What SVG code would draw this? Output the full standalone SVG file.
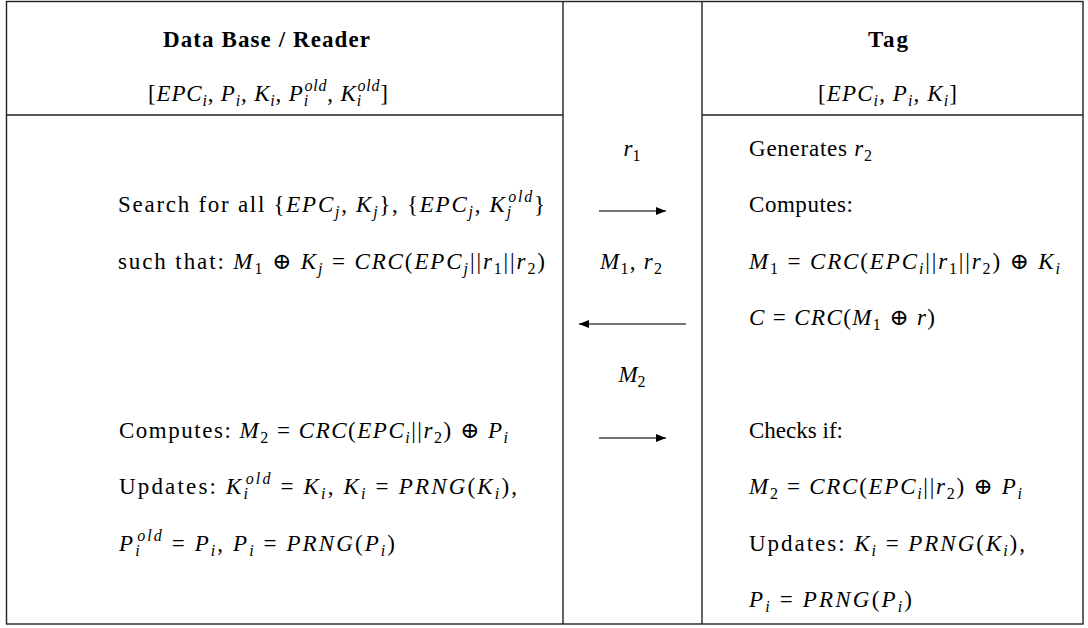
<svg xmlns="http://www.w3.org/2000/svg" width="1088" height="628" viewBox="0 0 1088 628">
<defs>
<style>
.frame{fill:none;stroke:#222;stroke-width:1.4}
.t{font-family:"Liberation Serif","DejaVu Serif",serif;font-size:23px;fill:#000}
.b{font-weight:bold}
.m{font-style:italic}
.s{font-size:16px}
.arr{stroke:#444;stroke-width:1.3;fill:none}
</style>
<marker id="ah" viewBox="0 0 10 8" refX="10" refY="4" markerWidth="11" markerHeight="8" markerUnits="userSpaceOnUse" orient="auto">
<path d="M0,0 L10,4 L0,8 Z" fill="#000"/>
</marker>
</defs>
<rect x="0" y="0" width="1088" height="628" fill="#fff"/>
<g id="table">
<rect class="frame" x="6.5" y="1.5" width="1076.5" height="622.5"/>
<line class="frame" x1="563" y1="1.5" x2="563" y2="624"/>
<line class="frame" x1="702" y1="1.5" x2="702" y2="624"/>
<line class="frame" x1="6.5" y1="115" x2="563" y2="115"/>
<line class="frame" x1="702" y1="115" x2="1083" y2="115"/>
</g>
<g id="reader">
<text class="t b" x="266.5" y="47" text-anchor="middle" textLength="207" lengthAdjust="spacing">Data Base / Reader</text>
<text class="t" x="268" y="101" text-anchor="middle" textLength="240" lengthAdjust="spacing">[<tspan class="m">EPC</tspan><tspan class="s m" dy="5">i</tspan><tspan dy="-5">, </tspan><tspan class="m">P</tspan><tspan class="s m" dy="5">i</tspan><tspan dy="-5">, </tspan><tspan class="m">K</tspan><tspan class="s m" dy="5">i</tspan><tspan dy="-5">, </tspan><tspan class="m">P</tspan><tspan class="s m" dy="5">i</tspan><tspan class="s m" dx="-4.5" dy="-15">old</tspan><tspan dy="10">, </tspan><tspan class="m">K</tspan><tspan class="s m" dy="5">i</tspan><tspan class="s m" dx="-4.5" dy="-15">old</tspan><tspan dy="10">]</tspan></text>
<text class="t" x="118" y="212.4" textLength="427" lengthAdjust="spacing">Search for all {<tspan class="m">EPC</tspan><tspan class="s m" dy="5">j</tspan><tspan dy="-5">, </tspan><tspan class="m">K</tspan><tspan class="s m" dy="5">j</tspan><tspan dy="-5">}, {</tspan><tspan class="m">EPC</tspan><tspan class="s m" dy="5">j</tspan><tspan dy="-5">, </tspan><tspan class="m">K</tspan><tspan class="s m" dy="5">j</tspan><tspan class="s m" dx="-4.5" dy="-15">old</tspan><tspan dy="10">}</tspan></text>
<text class="t" x="118" y="268.8" textLength="427" lengthAdjust="spacing">such that: <tspan class="m">M</tspan><tspan class="s" dy="5">1</tspan><tspan dy="-5"> ⊕ </tspan><tspan class="m">K</tspan><tspan class="s m" dy="5">j</tspan><tspan dy="-5"> = </tspan><tspan class="m">CRC</tspan>(<tspan class="m">EPC</tspan><tspan class="s m" dy="5">j</tspan><tspan dy="-5">||</tspan><tspan class="m">r</tspan><tspan class="s" dy="5">1</tspan><tspan dy="-5">||</tspan><tspan class="m">r</tspan><tspan class="s" dy="5">2</tspan><tspan dy="-5">)</tspan></text>
<text class="t" x="119" y="438" textLength="389" lengthAdjust="spacing">Computes: <tspan class="m">M</tspan><tspan class="s" dy="5">2</tspan><tspan dy="-5"> = </tspan><tspan class="m">CRC</tspan>(<tspan class="m">EPC</tspan><tspan class="s m" dy="5">i</tspan><tspan dy="-5">||</tspan><tspan class="m">r</tspan><tspan class="s" dy="5">2</tspan><tspan dy="-5">) ⊕ </tspan><tspan class="m">P</tspan><tspan class="s m" dy="5">i</tspan></text>
<text class="t" x="119" y="494.4" textLength="398" lengthAdjust="spacing">Updates: <tspan class="m">K</tspan><tspan class="s m" dy="5">i</tspan><tspan class="s m" dx="-4.5" dy="-15">old</tspan><tspan dy="10"> = </tspan><tspan class="m">K</tspan><tspan class="s m" dy="5">i</tspan><tspan dy="-5">, </tspan><tspan class="m">K</tspan><tspan class="s m" dy="5">i</tspan><tspan dy="-5"> = </tspan><tspan class="m">PRNG</tspan>(<tspan class="m">K</tspan><tspan class="s m" dy="5">i</tspan><tspan dy="-5">),</tspan></text>
<text class="t" x="119" y="550.8" textLength="276" lengthAdjust="spacing"><tspan class="m">P</tspan><tspan class="s m" dy="5">i</tspan><tspan class="s m" dx="-4.5" dy="-15">old</tspan><tspan dy="10"> = </tspan><tspan class="m">P</tspan><tspan class="s m" dy="5">i</tspan><tspan dy="-5">, </tspan><tspan class="m">P</tspan><tspan class="s m" dy="5">i</tspan><tspan dy="-5"> = </tspan><tspan class="m">PRNG</tspan>(<tspan class="m">P</tspan><tspan class="s m" dy="5">i</tspan><tspan dy="-5">)</tspan></text>
</g>
<g id="channel">
<text class="t" x="632" y="156" text-anchor="middle"><tspan class="m">r</tspan><tspan class="s" dy="5">1</tspan></text>
<text class="t" x="631" y="268.8" text-anchor="middle" textLength="62" lengthAdjust="spacing"><tspan class="m">M</tspan><tspan class="s" dy="5">1</tspan><tspan dy="-5">, </tspan><tspan class="m">r</tspan><tspan class="s" dy="5">2</tspan></text>
<text class="t" x="632" y="381.6" text-anchor="middle"><tspan class="m">M</tspan><tspan class="s" dy="5">2</tspan></text>
</g>
<g id="tag">
<text class="t b" x="888" y="47" text-anchor="middle" textLength="40" lengthAdjust="spacing">Tag</text>
<text class="t" x="887.5" y="101" text-anchor="middle" textLength="139" lengthAdjust="spacing">[<tspan class="m">EPC</tspan><tspan class="s m" dy="5">i</tspan><tspan dy="-5">, </tspan><tspan class="m">P</tspan><tspan class="s m" dy="5">i</tspan><tspan dy="-5">, </tspan><tspan class="m">K</tspan><tspan class="s m" dy="5">i</tspan><tspan dy="-5">]</tspan></text>
<text class="t" x="749" y="156" textLength="123" lengthAdjust="spacing">Generates <tspan class="m">r</tspan><tspan class="s" dy="5">2</tspan></text>
<text class="t" x="749" y="212.4" textLength="104" lengthAdjust="spacing">Computes:</text>
<text class="t" x="749" y="268.8" textLength="311" lengthAdjust="spacing"><tspan class="m">M</tspan><tspan class="s" dy="5">1</tspan><tspan dy="-5"> = </tspan><tspan class="m">CRC</tspan>(<tspan class="m">EPC</tspan><tspan class="s m" dy="5">i</tspan><tspan dy="-5">||</tspan><tspan class="m">r</tspan><tspan class="s" dy="5">1</tspan><tspan dy="-5">||</tspan><tspan class="m">r</tspan><tspan class="s" dy="5">2</tspan><tspan dy="-5">) ⊕ </tspan><tspan class="m">K</tspan><tspan class="s m" dy="5">i</tspan></text>
<text class="t" x="749" y="325.2" textLength="186" lengthAdjust="spacing"><tspan class="m">C</tspan> = <tspan class="m">CRC</tspan>(<tspan class="m">M</tspan><tspan class="s" dy="5">1</tspan><tspan dy="-5"> ⊕ </tspan><tspan class="m">r</tspan>)</text>
<text class="t" x="749" y="438" textLength="94" lengthAdjust="spacing">Checks if:</text>
<text class="t" x="749" y="494.4" textLength="273" lengthAdjust="spacing"><tspan class="m">M</tspan><tspan class="s" dy="5">2</tspan><tspan dy="-5"> = </tspan><tspan class="m">CRC</tspan>(<tspan class="m">EPC</tspan><tspan class="s m" dy="5">i</tspan><tspan dy="-5">||</tspan><tspan class="m">r</tspan><tspan class="s" dy="5">2</tspan><tspan dy="-5">) ⊕ </tspan><tspan class="m">P</tspan><tspan class="s m" dy="5">i</tspan></text>
<text class="t" x="749" y="550.8" textLength="276" lengthAdjust="spacing">Updates: <tspan class="m">K</tspan><tspan class="s m" dy="5">i</tspan><tspan dy="-5"> = </tspan><tspan class="m">PRNG</tspan>(<tspan class="m">K</tspan><tspan class="s m" dy="5">i</tspan><tspan dy="-5">),</tspan></text>
<text class="t" x="749" y="607.2" textLength="163" lengthAdjust="spacing"><tspan class="m">P</tspan><tspan class="s m" dy="5">i</tspan><tspan dy="-5"> = </tspan><tspan class="m">PRNG</tspan>(<tspan class="m">P</tspan><tspan class="s m" dy="5">i</tspan><tspan dy="-5">)</tspan></text>
</g>
<g id="connectors">
<line class="arr" x1="599" y1="211" x2="666" y2="211" marker-end="url(#ah)"/>
<line class="arr" x1="686" y1="324" x2="579" y2="324" marker-end="url(#ah)"/>
<line class="arr" x1="599" y1="438" x2="666" y2="438" marker-end="url(#ah)"/>
</g>
</svg>
